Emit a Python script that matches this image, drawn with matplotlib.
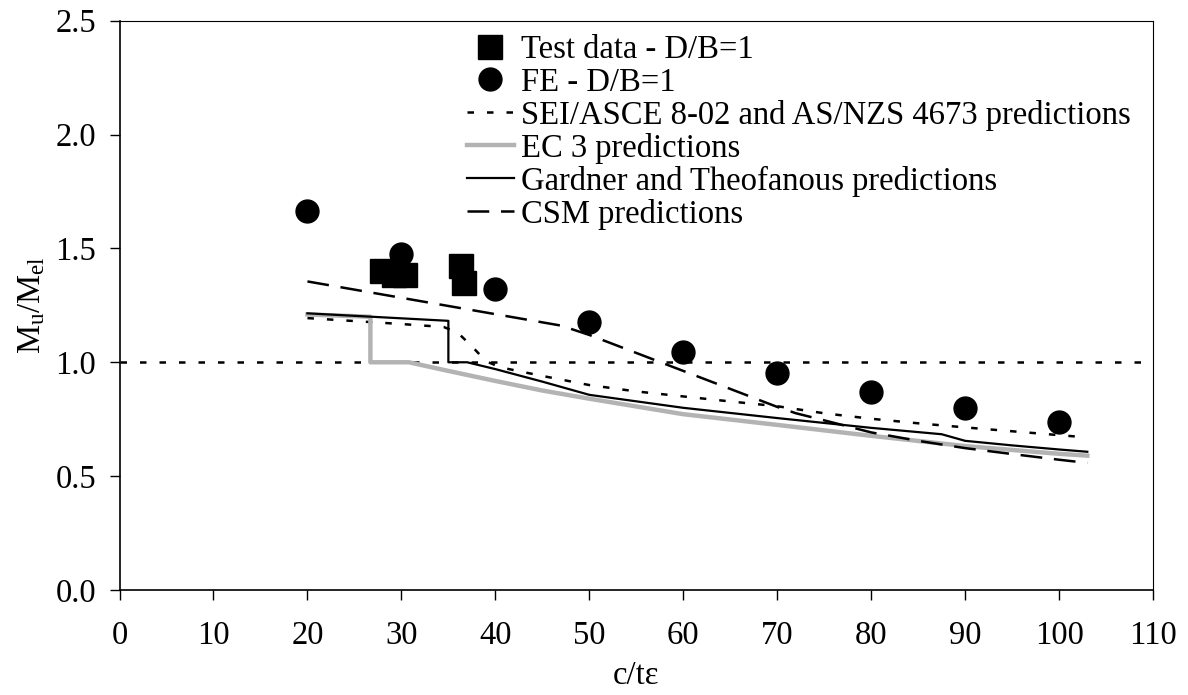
import numpy as np
import matplotlib
matplotlib.use("Agg")
from matplotlib import pyplot as plt

plt.rcParams['font.family'] = ['Liberation Serif', 'DejaVu Serif']
plt.rcParams['mathtext.fontset'] = 'custom'
plt.rcParams['mathtext.rm'] = 'Liberation Serif'
plt.rcParams['mathtext.it'] = 'Liberation Serif:italic'
plt.rcParams['font.size'] = 23.5

# test data (squares)
test_x = [27.9, 29.2, 30.4, 36.3, 36.7]
test_y = [1.40, 1.385, 1.385, 1.423, 1.346]

# FE results (circles)
fe_x = [20, 30, 40, 50, 60, 70, 80, 90, 100]
fe_y = [1.665, 1.475, 1.32, 1.175, 1.047, 0.953, 0.868, 0.80, 0.738]

# SEI/ASCE 8-02 and AS/NZS 4673
sei_x = [20, 25, 30, 34.5, 36, 37.5, 39, 40.5, 45, 50, 55, 60, 65, 70, 75, 80, 85, 90, 95, 100, 103]
sei_y = [1.194, 1.181, 1.168, 1.155, 1.13, 1.07, 1.005, 0.978, 0.94, 0.90, 0.872, 0.85, 0.828, 0.807, 0.776, 0.752, 0.732, 0.714, 0.697, 0.68, 0.67]

# EC 3
ec3_x = [20, 26.7, 26.7, 30.8, 35, 40, 45, 50, 60, 70, 80, 90, 100, 103]
ec3_y = [1.21, 1.20, 1.0, 1.0, 0.962, 0.918, 0.876, 0.84, 0.772, 0.725, 0.677, 0.632, 0.598, 0.59]

# Gardner and Theofanous
gt_x = [20, 35, 35, 37, 40, 45, 50, 60, 70, 80, 87.5, 90, 95, 100, 103]
gt_y = [1.215, 1.182, 1.0, 1.0, 0.97, 0.915, 0.857, 0.80, 0.755, 0.712, 0.684, 0.655, 0.635, 0.617, 0.607]

# CSM
csm_x = [20, 47, 50, 60, 70, 72, 75, 80, 85, 90, 95, 100, 103]
csm_y = [1.355, 1.161, 1.12, 0.962, 0.804, 0.776, 0.745, 0.692, 0.655, 0.623, 0.597, 0.572, 0.558]

fig = plt.figure(figsize=(11.88, 6.95), dpi=100)
ax = fig.add_axes([0.1006, 0.1511, 0.870, 0.8191])

dot = (0, (2.6, 5.2))
ax.plot([0, 110], [1.0, 1.0], color='black', lw=1.8, linestyle=dot)

ax.plot(test_x, test_y, 's', color='black', markersize=17, label='Test data - D/B=1', zorder=5)
ax.plot(fe_x, fe_y, 'o', color='black', markersize=16.5, label='FE - D/B=1', zorder=5)
ax.plot(sei_x, sei_y, color='black', lw=1.8, linestyle=dot,
        label='SEI/ASCE 8-02 and AS/NZS 4673 predictions')
ax.plot(ec3_x, ec3_y, color='#b3b3b3', lw=3.2, label='EC 3 predictions', zorder=2)
ax.plot(gt_x, gt_y, color='black', lw=1.6, label='Gardner and Theofanous predictions', zorder=3)
ax.plot(csm_x, csm_y, color='black', lw=1.8, linestyle=(0, (8.7, 4.7)),
        label='CSM predictions', zorder=3)

ax.set_xlim(0, 110)
ax.set_ylim(0, 2.5)
ax.set_xticks(np.arange(0, 111, 10))
ax.set_yticks(np.arange(0, 2.51, 0.5))
ax.yaxis.set_major_formatter(matplotlib.ticker.FormatStrFormatter('%.1f'))
ax.tick_params(direction='out', length=7, width=1, pad=10)
ax.tick_params(axis='x', pad=15)

for side in ['left', 'bottom']:
    ax.spines[side].set_linewidth(1.2)
for side in ['top', 'right']:
    ax.spines[side].set_linewidth(0.8)

ax.set_xlabel('c/tε', labelpad=7)
ax.set_ylabel(r'M$_{\rm u}$/M$_{\rm el}$', labelpad=6)

ax.legend(loc='upper left', bbox_to_anchor=(0.336, 0.975), frameon=False,
          borderpad=0, borderaxespad=0, handlelength=1.45, handletextpad=0.2,
          labelspacing=0.06, fontsize=23.5)

fig.savefig('out.png', dpi=100)
